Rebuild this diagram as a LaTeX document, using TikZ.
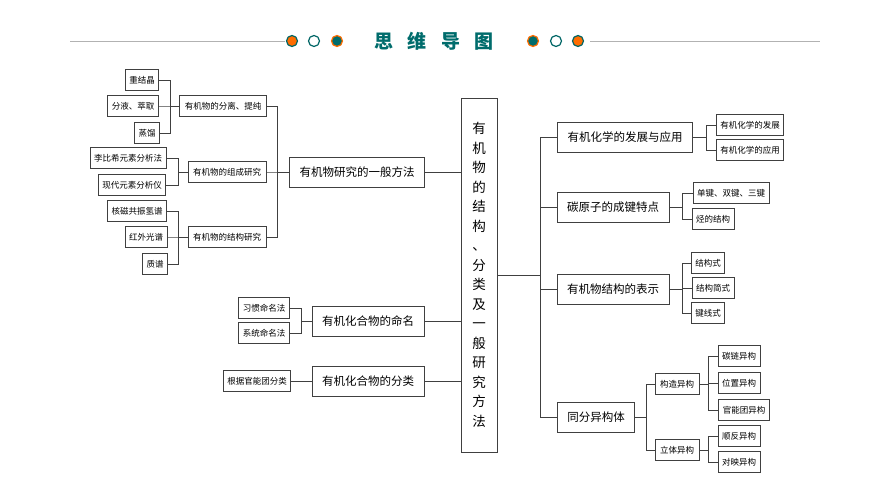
\documentclass[tikz,border=0pt]{standalone}
\usepackage{fontspec}
\setmainfont{Noto Sans CJK SC}
\begin{document}
\begin{tikzpicture}[x=1pt,y=-1pt,
 bx/.style={draw=black!75,line width=0.8pt,fill=white,inner ysep=0pt,minimum height=21},
 leaf/.style={bx,font=\fontsize{8.5}{10}\selectfont,inner xsep=4pt},
 mid/.style={bx,font=\fontsize{8.5}{10}\selectfont,inner xsep=5pt},
 mainb/.style={bx,font=\fontsize{11.5}{13}\selectfont,inner xsep=10pt,minimum height=30},
 ln/.style={draw=black!75,line width=0.7pt},
 dotA/.style={fill=orange!85!red,draw=teal!80!black,line width=1.2pt},
 dotB/.style={fill=white,draw=teal!80!black,line width=1.2pt},
 dotC/.style={fill=teal!85!black,draw=orange!85!red,line width=1.2pt}]
\useasboundingbox (0,0) rectangle (870,489);
% title
\draw[black!30,line width=0.6pt] (70,41) -- (285,41) (590,41) -- (820,41);
\filldraw[dotA] (292,41) circle (5.5); \filldraw[dotB] (314,41) circle (5.5); \filldraw[dotC] (337,41) circle (5.5);
\filldraw[dotC] (533,41) circle (5.5); \filldraw[dotB] (556,41) circle (5.5); \filldraw[dotA] (578,41) circle (5.5);
\node[font=\fontsize{19}{22}\selectfont\bfseries,text=teal!85!black] (title) at (434,41) {思\hspace{0.75em}维\hspace{0.75em}导\hspace{0.75em}图};
% center
\node[draw=black!75,line width=0.8pt,minimum width=36,minimum height=354,inner sep=0pt,align=center,font=\fontsize{13.5}{19.5}\selectfont] (C) at (479,275)
 {有\\机\\物\\的\\结\\构\\、\\分\\类\\及\\一\\般\\研\\究\\方\\法};
% left main
\node[mainb] (L1) at (357,172) {有机物研究的一般方法};
\node[mainb] (L2) at (368,321) {有机化合物的命名};
\node[mainb] (L3) at (368,381) {有机化合物的分类};
\foreach \n in {L1,L2,L3} \draw[ln] (\n.east) -- (C.west|-\n);
% L1 mids
\node[mid] (M1) at (223,106) {有机物的分离、提纯};
\node[mid] (M2) at (227,172) {有机物的组成研究};
\node[mid] (M3) at (227,237) {有机物的结构研究};
\coordinate (bL1) at (277,0);
\foreach \n in {M1,M2,M3} \draw[ln] (\n.east) -| (bL1|-L1) -- (L1.west);
% leaves
\node[leaf] (a1) at (142,80) {重结晶};
\node[leaf] (a2) at (133,106) {分液、萃取};
\node[leaf] (a3) at (147,133) {蒸馏};
\coordinate (ba) at (170,0);
\foreach \n in {a1,a2,a3} \draw[ln] (\n.east) -| (ba|-M1) -- (M1.west);
\node[leaf] (b1) at (128,158) {李比希元素分析法};
\node[leaf] (b2) at (132,185) {现代元素分析仪};
\coordinate (bb) at (178,0);
\foreach \n in {b1,b2} \draw[ln] (\n.east) -| (bb|-M2) -- (M2.west);
\node[leaf] (c1) at (137,211) {核磁共振氢谱};
\node[leaf] (c2) at (146,237) {红外光谱};
\node[leaf] (c3) at (155,264) {质谱};
\foreach \n in {c1,c2,c3} \draw[ln] (\n.east) -| (bb|-M3) -- (M3.west);
\node[leaf] (d1) at (264,308) {习惯命名法};
\node[leaf] (d2) at (264,333) {系统命名法};
\coordinate (bd) at (301,0);
\foreach \n in {d1,d2} \draw[ln] (\n.east) -| (bd|-L2) -- (L2.west);
\node[leaf] (e1) at (257,381) {根据官能团分类};
\draw[ln] (e1.east) -- (L3.west);
% right main
\node[mainb] (R1) at (625,137) {有机化学的发展与应用};
\node[mainb] (R2) at (613,207) {碳原子的成键特点};
\node[mainb] (R3) at (613,289) {有机物结构的表示};
\node[mainb] (R4) at (596,417) {同分异构体};
\coordinate (bR) at (540,275);
\draw[ln] (C.east|-bR) -- (bR);
\foreach \n in {R1,R2,R3,R4} \draw[ln] (\n.west) -| (bR);
\node[leaf] (f1) at (750,125) {有机化学的发展};
\node[leaf] (f2) at (750,150) {有机化学的应用};
\coordinate (bf) at (706,0);
\foreach \n in {f1,f2} \draw[ln] (\n.west) -| (bf|-R1) -- (R1.east);
\node[leaf] (g1) at (731,193) {单键、双键、三键};
\node[leaf] (g2) at (713,219) {烃的结构};
\coordinate (bg) at (682,0);
\foreach \n in {g1,g2} \draw[ln] (\n.west) -| (bg|-R2) -- (R2.east);
\node[leaf] (h1) at (708,263) {结构式};
\node[leaf] (h2) at (713,288) {结构简式};
\node[leaf] (h3) at (708,313) {键线式};
\foreach \n in {h1,h2,h3} \draw[ln] (\n.west) -| (bg|-R3) -- (R3.east);
\node[mid] (i1) at (677,384) {构造异构};
\node[mid] (i2) at (677,450) {立体异构};
\coordinate (bi) at (646,0);
\foreach \n in {i1,i2} \draw[ln] (\n.west) -| (bi|-R4) -- (R4.east);
\node[leaf] (j1) at (739,356) {碳链异构};
\node[leaf] (j2) at (739,383) {位置异构};
\node[leaf] (j3) at (744,410) {官能团异构};
\coordinate (bj) at (708,0);
\foreach \n in {j1,j2,j3} \draw[ln] (\n.west) -| (bj|-i1) -- (i1.east);
\node[leaf] (k1) at (739,436) {顺反异构};
\node[leaf] (k2) at (739,462) {对映异构};
\foreach \n in {k1,k2} \draw[ln] (\n.west) -| (bj|-i2) -- (i2.east);
\end{tikzpicture}
\end{document}
